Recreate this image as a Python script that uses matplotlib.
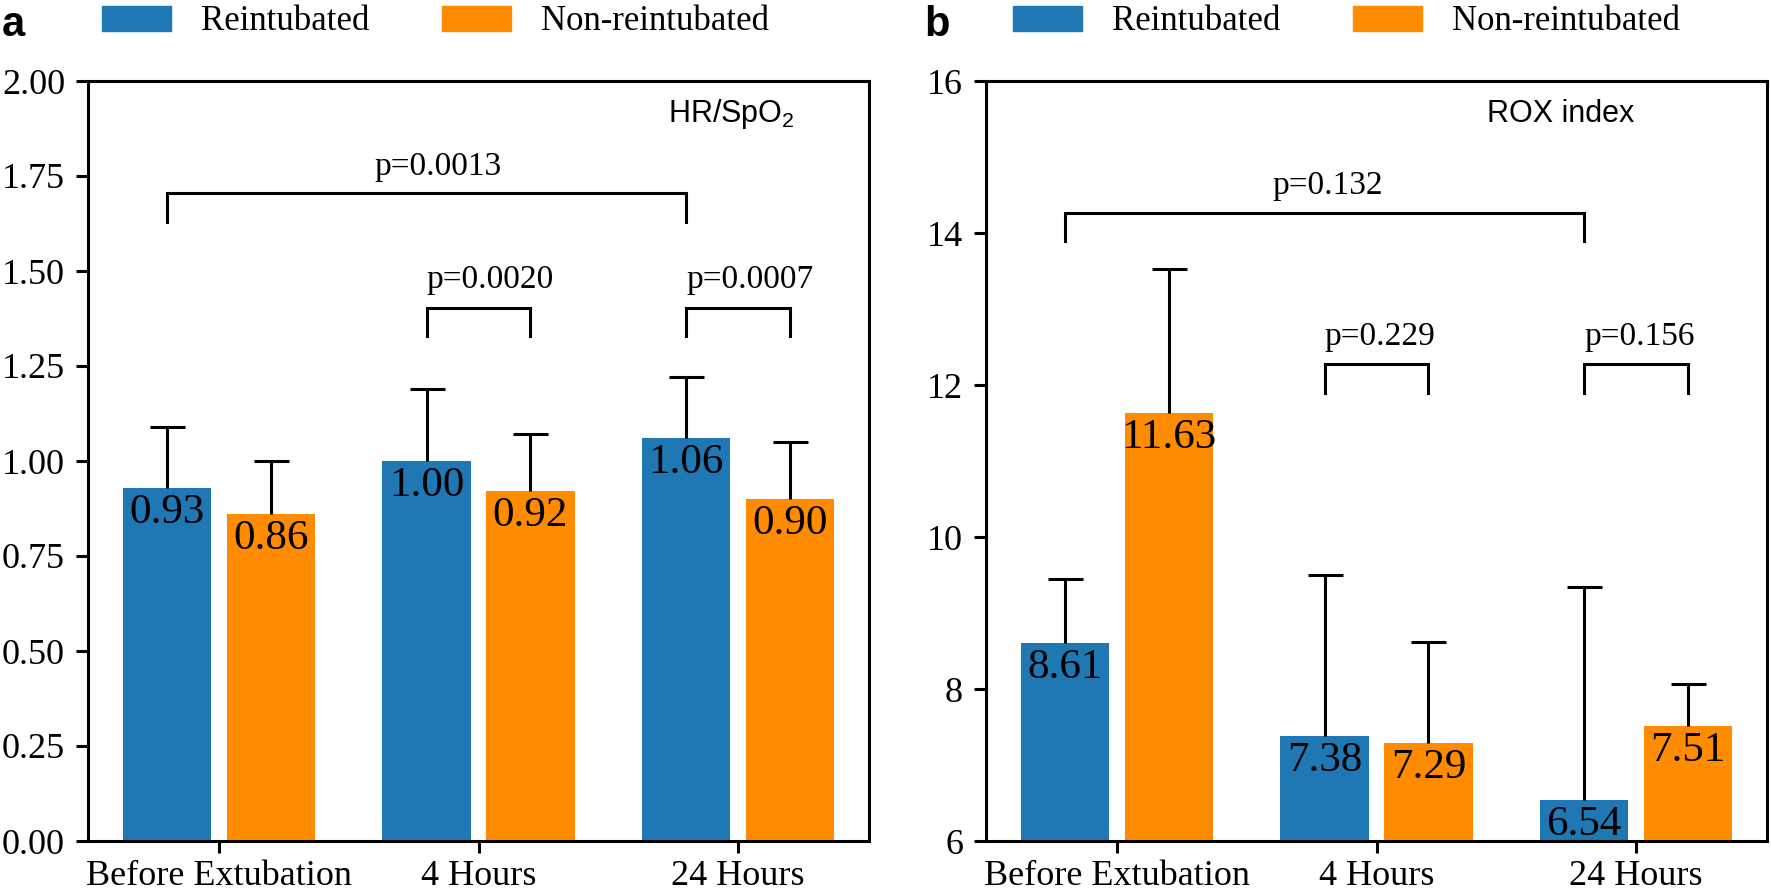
import numpy as np
import matplotlib
matplotlib.use("Agg")
import matplotlib.pyplot as plt
from matplotlib.patches import Patch

# data
categories = ["Before Extubation", "4 Hours", "24 Hours"]

hr_reint = [0.93, 1.00, 1.06]
hr_reint_sd = [0.16, 0.19, 0.16]
hr_non = [0.86, 0.92, 0.90]
hr_non_sd = [0.14, 0.15, 0.15]

rox_reint = [8.61, 7.38, 6.54]
rox_reint_sd = [0.84, 2.12, 2.80]
rox_non = [11.63, 7.29, 7.51]
rox_non_sd = [1.89, 1.33, 0.56]

hr_p_main = "p=0.0013"
hr_p_pairs = ["p=0.0020", "p=0.0007"]
rox_p_main = "p=0.132"
rox_p_pairs = ["p=0.229", "p=0.156"]

BLUE = "#1f77b4"
ORANGE = "#ff8c00"

plt.rcParams['font.family'] = ['Liberation Serif', 'DejaVu Serif']
plt.rcParams['axes.linewidth'] = 2.2

fig = plt.figure(figsize=(17.71, 8.93), dpi=100)
ax1 = fig.add_axes([88 / 1771, 52 / 893, 781 / 1771, 760 / 893])
ax2 = fig.add_axes([986 / 1771, 52 / 893, 781 / 1771, 760 / 893])

x = np.arange(len(categories))
off = 0.2
w = 0.34


def draw_panel(ax, reint, reint_sd, non, non_sd):
    ax.bar(x - off, reint, w, color=BLUE)
    ax.bar(x + off, non, w, color=ORANGE)
    for xs, v, sd in ((x - off, reint, reint_sd), (x + off, non, non_sd)):
        eb = ax.errorbar(xs, v, yerr=[np.zeros(len(v)), sd], fmt='none',
                         ecolor='black', elinewidth=2.2, capsize=12.6,
                         capthick=2.2, zorder=3)
        # only the upper whisker has a cap
        eb[1][0].set_visible(False)
        for xi, vi in zip(xs, v):
            ax.annotate("%.2f" % vi, (xi, vi), xytext=(0, -4),
                        textcoords='offset points', ha='center', va='top',
                        fontsize=31, zorder=4)
    ax.set_xticks(x)
    ax.set_xticklabels(categories)
    ax.set_xlim(-0.505, 2.505)
    ax.tick_params(axis='both', labelsize=26, width=2.2, length=8.5)
    ax.tick_params(axis='x', pad=5)
    ax.tick_params(axis='y', pad=8)


def bracket(ax, x1, x2, y, drop, label, ty, tx):
    ax.plot([x1, x1, x2, x2], [y - drop, y, y, y - drop], color='black',
            lw=2.2, solid_joinstyle='miter')
    ax.text(tx, ty, label, ha='left', va='baseline', fontsize=24)


draw_panel(ax1, hr_reint, hr_reint_sd, hr_non, hr_non_sd)
ax1.set_ylim(0, 2.0)
ax1.set_yticks(np.arange(0, 2.01, 0.25))
ax1.set_yticklabels(["%.2f" % t for t in np.arange(0, 2.01, 0.25)])
bracket(ax1, -off, 2 - off, 1.704, 0.074, hr_p_main, 1.753, 0.6)
for i, lab in enumerate(hr_p_pairs):
    bracket(ax1, 1 + i - off, 1 + i + off, 1.402, 0.072, lab, 1.455, 1 + i - off)
ax1.text(0.905, 0.946, r"HR/SpO$_\mathregular{2}$", transform=ax1.transAxes,
         ha='right', va='baseline', fontsize=22, family='Liberation Sans')

draw_panel(ax2, rox_reint, rox_reint_sd, rox_non, rox_non_sd)
ax2.set_ylim(6, 16)
ax2.set_yticks(np.arange(6, 17, 2))
bracket(ax2, -off, 2 - off, 14.26, 0.36, rox_p_main, 14.51, 0.6)
for i, lab in enumerate(rox_p_pairs):
    bracket(ax2, 1 + i - off, 1 + i + off, 12.27, 0.38, lab, 12.52, 1 + i - off)
ax2.text(0.83, 0.946, "ROX index", transform=ax2.transAxes,
         ha='right', va='baseline', fontsize=22, family='Liberation Sans')

handles = [Patch(color=BLUE), Patch(color=ORANGE)]
labels = ["Reintubated", "Non-reintubated"]
for lx in (102 / 1771, 1013 / 1771):
    fig.legend(handles, labels, loc='center left', bbox_to_anchor=(lx, 1 - 22 / 893),
               ncol=2, frameon=False, borderpad=0, borderaxespad=0,
               handlelength=2.0, handleheight=0.72, handletextpad=0.86,
               columnspacing=2.07, fontsize=25)

fig.text(0.001, 1 - 5 / 893, "a", ha='left', va='top', fontsize=30,
         fontweight='bold', family='Liberation Sans')
fig.text(924 / 1771, 1 - 5 / 893, "b", ha='left', va='top', fontsize=30,
         fontweight='bold', family='Liberation Sans')

fig.savefig("out.png", dpi=100)
